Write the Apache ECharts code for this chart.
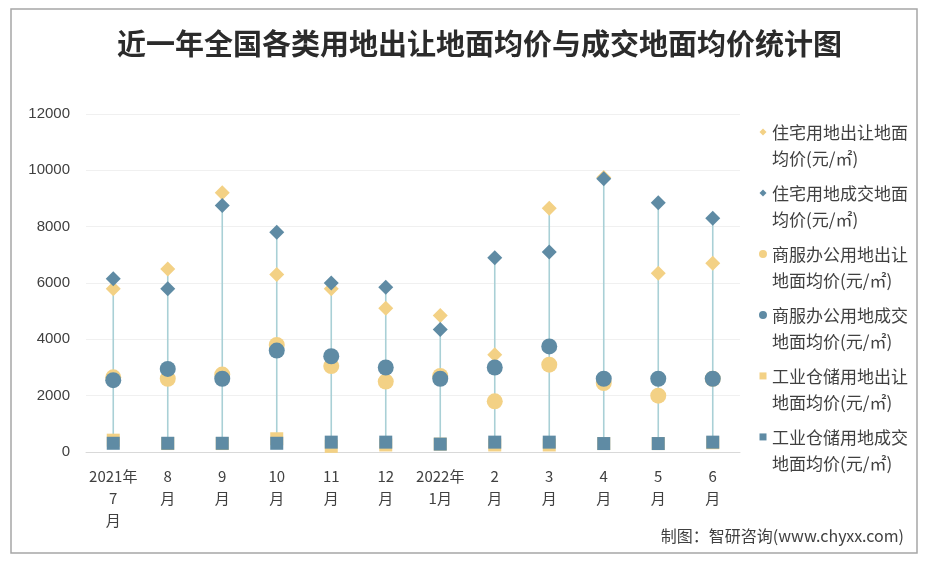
<!DOCTYPE html>
<html>
<head>
<meta charset="utf-8">
<script src="https://cdn.jsdelivr.net/npm/echarts@6/dist/echarts.min.js"></script>
<style>
html,body{margin:0;padding:0;background:#fff;}
#main{width:930px;height:563px;}
</style>
</head>
<body>
<div id="main"></div>
<script>
var categories = ['2021年\n7\n月','8\n月','9\n月','10\n月','11\n月','12\n月','2022年\n1月','2\n月','3\n月','4\n月','5\n月','6\n月'];
var seriesNames = [
  '住宅用地出让地面均价(元/㎡)',
  '住宅用地成交地面均价(元/㎡)',
  '商服办公用地出让地面均价(元/㎡)',
  '商服办公用地成交地面均价(元/㎡)',
  '工业仓储用地出让地面均价(元/㎡)',
  '工业仓储用地成交地面均价(元/㎡)'
];
var resSale   = [5800, 6500, 9200, 6300, 5800, 5100, 4850, 3450, 8650, 9750, 6350, 6700];
var resDeal   = [6150, 5800, 8750, 7800, 6000, 5850, 4350, 6900, 7100, 9700, 8850, 8300];
var comSale   = [2650, 2600, 2750, 3800, 3050, 2500, 2700, 1800, 3100, 2450, 2000, 2600];
var comDeal   = [2550, 2950, 2600, 3600, 3400, 3000, 2600, 3000, 3750, 2600, 2600, 2600];
var indSale   = [420, 300, 300, 470, 200, 250, 280, 250, 250, 300, 300, 330];
var indDeal   = [310, 310, 310, 310, 350, 350, 280, 350, 350, 300, 300, 350];
var yTicks = [0, 2000, 4000, 6000, 8000, 10000, 12000];

var YEL = '#f3d185', BLU = '#5f8ba4', LINE = '#a9d0d6';
var all = [resSale, resDeal, comSale, comDeal, indSale, indDeal];
var hiLo = categories.map(function(c, i){
  var vals = all.map(function(a){ return a[i]; });
  return [i, Math.min.apply(null, vals), Math.max.apply(null, vals)];
});

// legend icons: shape sits beside the first of two text lines (box 8 x 56)
var ICON_DIAMOND = 'path://M0 0M8 56M4 10.5L7.5 14L4 17.5L0.5 14Z';
var ICON_CIRCLE = 'path://M0 0M8 56M4 10A4 4 0 1 1 3.99 10Z';
var ICON_SQUARE = 'path://M0 0M8 56M0.5 10.5H7.5V17.5H0.5Z';
var legendIcons = [ICON_DIAMOND, ICON_DIAMOND, ICON_CIRCLE, ICON_CIRCLE, ICON_SQUARE, ICON_SQUARE];

function sc(name, data, color, symbol, size){
  return {
    name: name, type: 'scatter', data: data, symbol: symbol, symbolSize: size,
    itemStyle: {color: color, opacity: 1}, z: 3
  };
}

var chart = echarts.init(document.getElementById('main'));
chart.setOption({
  backgroundColor: '#fff',
  animation: false,
  title: {
    text: '近一年全国各类用地出让地面均价与成交地面均价统计图',
    left: 112, top: 24,
    textStyle: {fontFamily: 'Noto Sans CJK SC', fontSize: 29, fontWeight: 'bold', color: '#2b2b2b'}
  },
  graphic: [
    {type: 'rect', shape: {x: 11, y: 9, width: 906, height: 544}, style: {fill: 'none', stroke: '#a6a6a6', lineWidth: 1.5}, z: -1},
    {type: 'text', right: 26, top: 528, style: {text: '制图：智研咨询(www.chyxx.com)', fontSize: 16, fill: '#404040', fontFamily: 'Noto Sans CJK SC'}}
  ],
  legend: {
    data: seriesNames.map(function(n, i){ return {name: n, icon: legendIcons[i]}; }),
    orient: 'vertical',
    left: 754, top: 113,
    itemWidth: 8, itemHeight: 56, itemGap: 5,
    formatter: function(n){ return n.slice(0, 8) + '\n' + n.slice(8); },
    textStyle: {fontSize: 17, lineHeight: 26, color: '#404040', fontFamily: 'Noto Sans CJK SC'}
  },
  grid: {left: 86, right: 190, top: 114, bottom: 111},
  xAxis: {
    type: 'category', data: categories,
    axisLine: {lineStyle: {color: '#d9d9d9'}},
    axisTick: {show: false},
    axisLabel: {interval: 0, fontSize: 15, lineHeight: 22, color: '#404040', margin: 13, fontFamily: 'Noto Sans CJK SC'}
  },
  yAxis: {
    type: 'value', min: yTicks[0], max: yTicks[yTicks.length - 1], interval: 2000,
    axisLine: {show: false}, axisTick: {show: false},
    splitLine: {lineStyle: {color: '#f0f0f0'}},
    axisLabel: {fontSize: 15, color: '#404040', margin: 16, fontFamily: 'Liberation Sans', formatter: function(v){ return String(v); }}
  },
  series: [
    {
      type: 'custom', data: hiLo, z: 1, silent: true,
      encode: {x: 0, y: [1, 2]},
      renderItem: function(params, api){
        var p1 = api.coord([api.value(0), api.value(1)]);
        var p2 = api.coord([api.value(0), api.value(2)]);
        return {type: 'line', shape: {x1: p1[0], y1: p1[1], x2: p2[0], y2: p2[1]}, style: {stroke: LINE, lineWidth: 1.6}};
      }
    },
    sc(seriesNames[0], resSale, YEL, 'diamond', 15),
    sc(seriesNames[1], resDeal, BLU, 'diamond', 15),
    sc(seriesNames[2], comSale, YEL, 'circle', 16),
    sc(seriesNames[3], comDeal, BLU, 'circle', 16),
    sc(seriesNames[4], indSale, YEL, 'rect', 13),
    sc(seriesNames[5], indDeal, BLU, 'rect', 13)
  ]
});
</script>
</body>
</html>
